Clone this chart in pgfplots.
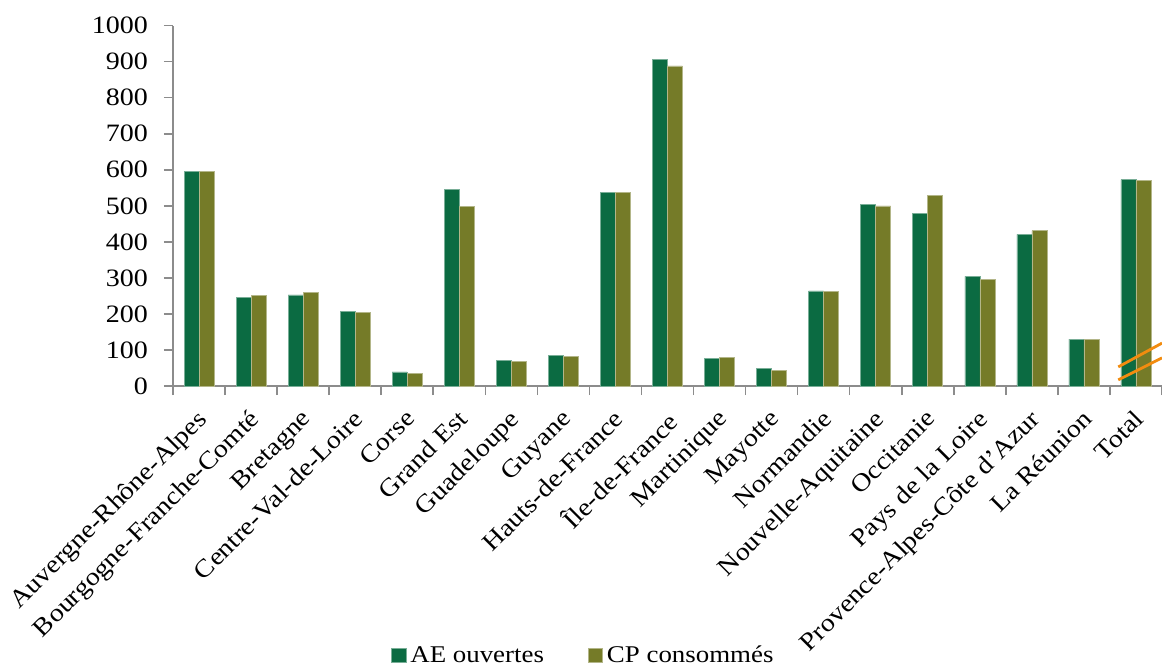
\documentclass[border=0pt]{standalone}
\usepackage{fontspec}
\setmainfont{Liberation Serif}[FakeStretch=1.12]
\usepackage{pgfplots}
\pgfplotsset{compat=1.18}
\definecolor{AEc}{HTML}{0B6B42}
\definecolor{CPc}{HTML}{757B28}
\definecolor{brk}{HTML}{F28C0F}
\definecolor{axc}{HTML}{8C8C8C}
\begin{document}
\begin{tikzpicture}[x=1pt,y=1pt]
\begin{axis}[
  scale only axis,
  width=494.5pt, height=180.2pt,
  ybar=0pt, bar width=0.288,
  xmin=-0.5, xmax=18.5,
  ymin=0, ymax=1000,
  ytick={0,100,...,1000},
  xtick={0,...,18},
  xticklabels={Auvergne-Rhône-Alpes,Bourgogne-Franche-Comté,Bretagne,Centre-Val-de-Loire,Corse,Grand Est,Guadeloupe,Guyane,Hauts-de-France,Île-de-France,Martinique,Mayotte,Normandie,Nouvelle-Aquitaine,Occitanie,Pays de la Loire,Provence-Alpes-Côte d'Azur,La Réunion,Total},
  minor xtick={-0.5,0.5,...,18.5},
  axis x line=bottom, axis y line=left,
  axis line style={-, axc, line width=0.8pt},
  tick style={axc, line width=0.8pt},
  tick align=outside,
  major tick length=4.5pt, minor tick length=4.5pt,
  major x tick style={draw=none},
  /pgf/number format/assume math mode=true,
  /pgf/number format/1000 sep={},
  yticklabel style={font=\fontsize{12.5}{14}\selectfont, xshift=-4.5pt},
  xticklabel style={font=\fontsize{12.5}{14}\selectfont, xshift=-1.5pt, yshift=-5pt, rotate=45, anchor=north east, inner sep=1pt},
  legend style={draw=none, at={(axis description cs:0.416,-0.748)}, anchor=center,
    legend columns=2, font=\fontsize{12}{14}\selectfont,
    /tikz/every even column/.append style={column sep=20pt}},
  legend image code/.code={\fill[#1] (0pt,-3.6pt) rectangle (7.2pt,3.6pt);},
  clip=false,
]
\addplot[fill=AEc, draw=AEc!55!white, line width=0.3pt] coordinates {
(0,596) (1,245) (2,253) (3,206) (4,39) (5,546) (6,72) (7,85) (8,537) (9,907)
(10,77) (11,49) (12,264) (13,504) (14,480) (15,304) (16,421) (17,130) (18,573)};
\addlegendentry{AE ouvertes}
\addplot[fill=CPc, draw=CPc!55!white, line width=0.3pt] coordinates {
(0,596) (1,251) (2,259) (3,205) (4,36) (5,498) (6,69) (7,82) (8,538) (9,888)
(10,80) (11,44) (12,262) (13,500) (14,529) (15,296) (16,431) (17,130) (18,570)};
\addlegendentry{CP consommés}
\draw[brk, line width=1.4pt] (axis cs:17.66,53) -- (axis cs:18.5,119);
\draw[brk, line width=1.4pt] (axis cs:17.66,17) -- (axis cs:18.5,78);
\coordinate (O) at (rel axis cs:0,0);
\end{axis}
\pgfresetboundingbox
\path (O) ++(-86.5pt,-140pt) rectangle ++(581pt,333pt);
\end{tikzpicture}
\end{document}
